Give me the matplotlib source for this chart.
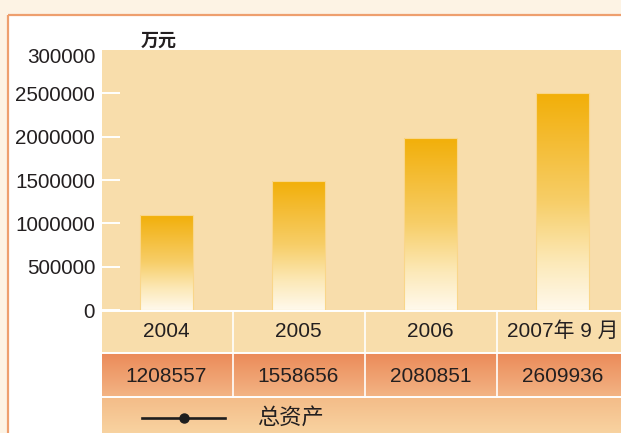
import numpy as np
import matplotlib
matplotlib.use("Agg")
import matplotlib.pyplot as plt
import matplotlib.transforms as mtransforms
from matplotlib.colors import LinearSegmentedColormap
from matplotlib.patches import Rectangle

# ---------------- data ----------------
years = ["2004", "2005", "2006", "2007年 9 月"]
bar_values = [1100000, 1490000, 1985000, 2500000]      # bar heights as drawn
table_values = ["1208557", "1558656", "2080851", "2609936"]
ytick_values = [0, 500000, 1000000, 1500000, 2000000, 2500000, 3000000]
ytick_labels = ["0", "500000", "1000000", "1500000", "2000000", "2500000", "300000"]
unit_label = "万元"
series_label = "总资产"

W, H = 621, 433
fig = plt.figure(figsize=(W / 100, H / 100), dpi=100)
fig.patch.set_facecolor("#FDF3E4")

LATIN = ["Liberation Sans", "Noto Sans CJK SC"]
CJK = ["Noto Sans CJK SC", "DejaVu Sans"]
TXT = "#231F20"


def pxax(x0, y0, x1, y1, **kw):
    return fig.add_axes([x0 / W, (H - y1) / H, (x1 - x0) / W, (y1 - y0) / H], **kw)


# ---------------- background frame ----------------
bg = pxax(0, 0, W, H)
bg.set_xlim(0, W)
bg.set_ylim(H, 0)
bg.axis("off")
bg.add_patch(Rectangle((8, 14.5), W, H, facecolor="white", edgecolor="none", zorder=0))
bg.plot([8, 8], [14.5, H + 5], color="#EE9F6E", lw=1.6, solid_capstyle="butt", zorder=1)
bg.plot([8, W + 5], [14.5, 14.5], color="#EE9F6E", lw=1.6, solid_capstyle="butt", zorder=1)
bg.text(158.5, 40, unit_label, family=CJK, fontsize=13, fontweight="bold",
        color=TXT, ha="center", va="center")

# ---------------- main bar axes ----------------
x0_px, unit_px, c0_px = 102, 132.0, 166.5
xl = ((x0_px - c0_px) / unit_px, (W - c0_px) / unit_px)

ax = pxax(x0_px, 50, W, 310)
ax.set_facecolor("#F8DDAB")
for s in ax.spines.values():
    s.set_visible(False)

xs = np.arange(len(years))
bars = ax.bar(xs, bar_values, width=0.4, color="none", edgecolor="#F9D68A",
              linewidth=0.8, zorder=3)

cmap = LinearSegmentedColormap.from_list(
    "g", [(0.0, "#FFF9EC"), (0.22, "#FCE9B8"), (0.5, "#F7CE68"),
          (0.78, "#F4BC33"), (1.0, "#F2AF08")])
grad = np.linspace(0, 1, 256).reshape(-1, 1)
for b in bars:
    im = ax.imshow(grad, extent=[b.get_x(), b.get_x() + b.get_width(), 0, b.get_height()],
                   aspect="auto", origin="lower", cmap=cmap, zorder=2)
    im.set_clip_path(b)

ax.set_xlim(*xl)
ax.set_ylim(0, 3000000)
ax.set_xticks([])
ax.set_yticks(ytick_values)
ax.set_yticklabels(ytick_labels, family=LATIN, fontsize=14.9, color=TXT)
ax.tick_params(axis="y", direction="in", length=13, width=1.4, color="white", pad=5)
ax.yaxis.get_major_ticks()[-1].tick1line.set_visible(False)
toplab = ax.get_yticklabels()[-1]
toplab.set_transform(toplab.get_transform() +
                     mtransforms.ScaledTranslation(0, -5.5 / 100, fig.dpi_scale_trans))

# ---------------- table ----------------
tab = pxax(x0_px, 309, W, H)
tab.set_xlim(*xl)
tab.set_ylim(H, 309)
tab.axis("off")

r1, r2, r3, r4 = 310.5, 353, 397, H + 2
tab.add_patch(Rectangle((xl[0], r1), 10, r2 - r1, facecolor="#F8DDAB", edgecolor="none", zorder=0))
cm2 = LinearSegmentedColormap.from_list("r2", ["#EB8A59", "#F3B585"])
cm3 = LinearSegmentedColormap.from_list("r3", ["#F4BC88", "#F8D4A2"])
tab.imshow(grad, extent=[xl[0], xl[1] + 1, r3, r2], aspect="auto", cmap=cm2, zorder=0)
tab.imshow(grad, extent=[xl[0], xl[1] + 1, r4, r3], aspect="auto", cmap=cm3, zorder=0)
tab.set_xlim(*xl)
tab.set_ylim(H, 309)

for yy in [r1, r2, r3]:
    tab.axhline(yy, color="white", lw=1.4, zorder=2)
for i in range(len(years)):
    if i < len(years) - 1:
        tab.plot([i + 0.5, i + 0.5], [r1, r3], color="white", lw=1.2, zorder=2)
    tab.text(i, 331.5, years[i], family=LATIN, fontsize=15, color=TXT,
             ha="center", va="center", zorder=3)
    tab.text(i, 376, table_values[i], family=LATIN, fontsize=15, color=TXT,
             ha="center", va="center", zorder=3)

# ---------------- legend row (overlay) ----------------
top = pxax(0, 0, W, H)
top.set_xlim(0, W)
top.set_ylim(H, 0)
top.axis("off")
top.patch.set_alpha(0)
top.plot([142, 225], [417.5, 417.5], color="#1E1E1E", lw=1.9, zorder=5)
top.plot([184], [417.5], marker="o", markersize=6.5, color="#1E1E1E", zorder=5)
top.text(290, 417, series_label, family=CJK, fontsize=16, color=TXT,
         ha="center", va="center", zorder=5)

fig.savefig("out.png", dpi=100, facecolor=fig.get_facecolor())
